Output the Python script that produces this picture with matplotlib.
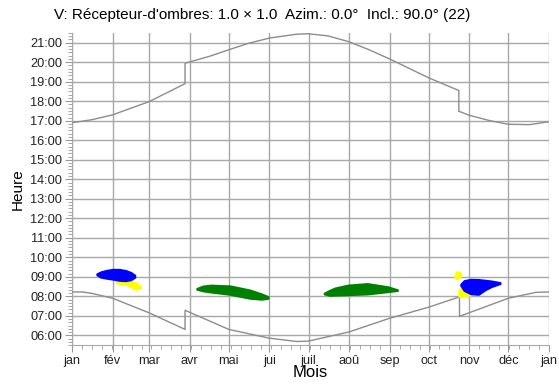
import matplotlib
matplotlib.use("Agg")
import matplotlib.pyplot as plt
from matplotlib.ticker import FixedLocator, MultipleLocator, FuncFormatter

plt.rcParams['font.family'] = ['Liberation Sans', 'DejaVu Sans']

# --- données (jour de l'année, heure décimale) ---
month_starts = [0, 31, 59, 90, 120, 151, 181, 212, 243, 273, 304, 334, 365]
month_labels = ['jan', 'fév', 'mar', 'avr', 'mai', 'jui', 'juil', 'aoû',
                'sep', 'oct', 'nov', 'déc', 'jan']

# coucher du soleil
sunset_days = [0, 15, 31, 59, 86.5, 86.5, 105, 120, 135, 151, 172, 181, 196,
               212, 227, 243, 273, 296, 296, 304, 320, 334, 350, 365]
sunset_h = [16.9, 17.05, 17.3, 17.98, 18.9, 19.95, 20.3, 20.64, 20.97, 21.24,
            21.44, 21.46, 21.35, 21.05, 20.65, 20.17, 19.2, 18.55, 17.49,
            17.28, 17.0, 16.82, 16.8, 16.95]

# lever du soleil
sunrise_days = [0, 8, 15, 31, 59, 86.5, 86.5, 120, 151, 172, 181, 212, 243,
                273, 296.5, 296.5, 334, 355, 365]
sunrise_h = [8.22, 8.22, 8.15, 7.9, 7.15, 6.3, 7.28, 6.3, 5.85, 5.68, 5.7,
             6.17, 6.87, 7.44, 7.97, 6.97, 7.9, 8.2, 8.22]

# zones d'ombre
yellow1_days = [34, 38, 42, 46, 49, 52]
yellow1_lo = [8.7, 8.62, 8.6, 8.45, 8.35, 8.45]
yellow1_hi = [8.78, 8.78, 8.78, 8.76, 8.68, 8.55]

blue1_days = [19, 22, 26, 31, 36, 41, 45, 48]
blue1_lo = [9.1, 8.98, 8.93, 8.88, 8.82, 8.8, 8.85, 8.98]
blue1_hi = [9.15, 9.25, 9.32, 9.38, 9.38, 9.32, 9.22, 9.08]

green1_days = [95.5, 100, 106, 121, 136, 145, 150]
green1_lo = [8.36, 8.28, 8.22, 8.1, 7.9, 7.85, 7.9]
green1_hi = [8.4, 8.52, 8.57, 8.53, 8.32, 8.12, 7.98]

green2_days = [193, 197, 201, 211, 226, 242, 249]
green2_lo = [8.12, 8.05, 8.06, 8.08, 8.12, 8.24, 8.3]
green2_hi = [8.16, 8.3, 8.42, 8.57, 8.65, 8.48, 8.33]

yellow2a_days = [293, 294.5, 296, 297.5]
yellow2a_lo = [8.95, 8.9, 8.95, 9.05]
yellow2a_hi = [9.1, 9.25, 9.25, 9.15]

yellow2b_days = [296, 298, 302, 306]
yellow2b_lo = [8.0, 7.98, 8.02, 8.1]
yellow2b_hi = [8.35, 8.4, 8.3, 8.2]

blue2_days = [297.5, 300, 305, 311, 316, 321, 327.5]
blue2_lo = [8.55, 8.3, 8.13, 8.1, 8.33, 8.5, 8.65]
blue2_hi = [8.62, 8.8, 8.87, 8.86, 8.82, 8.78, 8.7]

fig = plt.figure(figsize=(5.59, 3.85), dpi=100)
ax = fig.add_axes([72 / 559, 1 - 345 / 385, 477 / 559, 312 / 385])

gray = '#8c8c8c'
ax.plot(sunset_days, sunset_h, color=gray, lw=1.0, zorder=3)
ax.plot(sunrise_days, sunrise_h, color=gray, lw=1.0, zorder=3)

blobs = [
    (yellow1_days, yellow1_lo, yellow1_hi, '#ffff00'),
    (blue1_days, blue1_lo, blue1_hi, '#0000ff'),
    (green1_days, green1_lo, green1_hi, '#008000'),
    (green2_days, green2_lo, green2_hi, '#008000'),
    (yellow2a_days, yellow2a_lo, yellow2a_hi, '#ffff00'),
    (yellow2b_days, yellow2b_lo, yellow2b_hi, '#ffff00'),
    (blue2_days, blue2_lo, blue2_hi, '#0000ff'),
]
for d, lo, hi, c in blobs:
    ax.fill_between(d, lo, hi, color=c, lw=1.5, edgecolor=c, zorder=4)

ax.set_xlim(0, 365)
ax.set_ylim(5.5, 21.5)

ax.xaxis.set_major_locator(FixedLocator(month_starts))
ax.set_xticklabels(month_labels)
ax.xaxis.set_minor_locator(MultipleLocator(7.6))
ax.yaxis.set_major_locator(MultipleLocator(1))
ax.yaxis.set_minor_locator(MultipleLocator(1 / 6))
ax.yaxis.set_major_formatter(FuncFormatter(lambda v, p: f"{int(round(v)):02d}:00"))

ax.grid(True, which='major', color='#a8a8a8', lw=1.0, zorder=1)
ax.set_axisbelow(True)
for s in ['top', 'right']:
    ax.spines[s].set_visible(False)
for s in ['left', 'bottom']:
    ax.spines[s].set_color('#a8a8a8')

ax.tick_params(which='major', length=5, color='#999999', labelsize=9.2,
               labelcolor='#222222', pad=2)
ax.tick_params(which='minor', length=3, color='#999999')

ax.set_xlabel('Mois', fontsize=12, labelpad=-1)
ax.set_ylabel('Heure', fontsize=11, labelpad=4)
fig.text(262 / 559, 1 - 15 / 385,
         "V: Récepteur-d'ombres: 1.0 × 1.0  Azim.: 0.0°  Incl.: 90.0° (22)",
         fontsize=11, ha='center', va='center')

fig.savefig('out.png', dpi=100)
